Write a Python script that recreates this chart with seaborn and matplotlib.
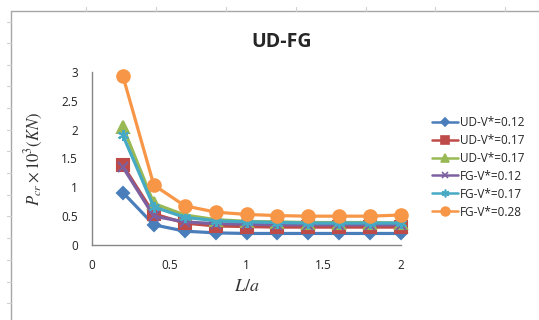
import pandas as pd
import matplotlib.pyplot as plt
import seaborn as sns
from matplotlib.lines import Line2D

# L/a values and buckling load P_cr x 10^3 (KN)
l_over_a = [0.2, 0.4, 0.6, 0.8, 1.0, 1.2, 1.4, 1.6, 1.8, 2.0]
ud_012 = [0.91, 0.35, 0.24, 0.21, 0.20, 0.20, 0.20, 0.20, 0.20, 0.20]
ud_017a = [1.38, 0.54, 0.38, 0.33, 0.32, 0.31, 0.31, 0.31, 0.31, 0.31]
ud_017b = [2.05, 0.72, 0.52, 0.44, 0.41, 0.40, 0.39, 0.39, 0.39, 0.38]
fg_012 = [1.35, 0.50, 0.40, 0.37, 0.36, 0.35, 0.35, 0.35, 0.35, 0.35]
fg_017 = [1.90, 0.66, 0.48, 0.42, 0.40, 0.39, 0.38, 0.38, 0.38, 0.38]
fg_028 = [2.93, 1.04, 0.68, 0.57, 0.53, 0.51, 0.50, 0.50, 0.50, 0.52]

labels = ['UD-V*=0.12', 'UD-V*=0.17', 'UD-V*=0.17', 'FG-V*=0.12', 'FG-V*=0.17', 'FG-V*=0.28']
series = [ud_012, ud_017a, ud_017b, fg_012, fg_017, fg_028]
colors = ['#4A7EBB', '#BE4B48', '#98B954', '#7D60A0', '#46AAC5', '#F79646']
markers = ['D', 's', '^', 'x', (6, 2, 0), 'o']
msizes = [6, 8, 8, 7, 8, 9]

sns.set_style('white')
plt.rcParams['font.family'] = ['Open Sans', 'DejaVu Sans']
plt.rcParams['mathtext.fontset'] = 'stix'

fig = plt.figure(figsize=(5.39, 3.2), dpi=100)
ax = fig.add_axes([0.1707, 0.2344, 0.5733, 0.5406])

for i, (vals, c, m, ms) in enumerate(zip(series, colors, markers, msizes)):
    d = pd.DataFrame({'x': l_over_a, 'y': vals})
    sns.lineplot(data=d, x='x', y='y', ax=ax, color=c, marker=m, markersize=ms,
                 linewidth=2.3, markeredgecolor=c, markeredgewidth=1.5, label=f's{i}')

ax.set_xlim(0, 2)
ax.set_ylim(0, 3)
ax.set_xticks([0, 0.5, 1, 1.5, 2])
ax.set_xticklabels(['0', '0.5', '1', '1.5', '2'])
ax.set_yticks([0, 0.5, 1, 1.5, 2, 2.5, 3])
ax.set_yticklabels(['0', '0.5', '1', '1.5', '2', '2.5', '3'])
for s in ['top', 'right']:
    ax.spines[s].set_visible(False)
for s in ['left', 'bottom']:
    ax.spines[s].set_color('#868686')
    ax.spines[s].set_linewidth(1)
ax.tick_params(axis='both', which='major', direction='out', length=4, width=1,
               color='#868686', labelsize=8.5, labelcolor='#222222', pad=6)
ax.set_xlabel('$L/a$', fontsize=13, labelpad=4, color='#333333')
ax.set_ylabel(r'$P_{cr}\times10^{3}(KN)$', fontsize=12, labelpad=12, color='#333333')
for ln in ax.lines:
    ln.set_clip_on(False)

fig.text(282 / 539, 1 - 42 / 320, 'UD-FG', fontsize=14, fontweight='bold',
         ha='center', va='center')

handles = [Line2D([0], [0], color=c, marker=m, markersize=ms * 0.7, lw=1.8,
                  markeredgecolor=c, markeredgewidth=1.2)
           for c, m, ms in zip(colors, markers, msizes)]
ax.legend(handles, labels, loc='center left', bbox_to_anchor=(1.065, 0.45), frameon=False,
          fontsize=8.5, handlelength=2.2, handletextpad=0.2, labelspacing=0.42)

# spreadsheet frame lines around the chart area
fc = '#a6a6a6'
fig.add_artist(Line2D([11 / 539, 1], [1 - 11 / 320, 1 - 11 / 320], color=fc, lw=1))
fig.add_artist(Line2D([11 / 539, 11 / 539], [0, 1 - 11 / 320], color=fc, lw=1))
for xp in [86, 156, 226, 296, 366, 435, 505]:
    fig.add_artist(Line2D([xp / 539, xp / 539], [1 - 11 / 320, 1 - 7 / 320], color='#d0d0d0', lw=0.8))
for yp in [22, 43, 65, 86, 108, 130, 151, 173, 195, 216, 238, 260, 282, 303]:
    fig.add_artist(Line2D([7 / 539, 11 / 539], [1 - yp / 320, 1 - yp / 320], color='#d0d0d0', lw=0.8))

fig.savefig('out.png', dpi=100)
